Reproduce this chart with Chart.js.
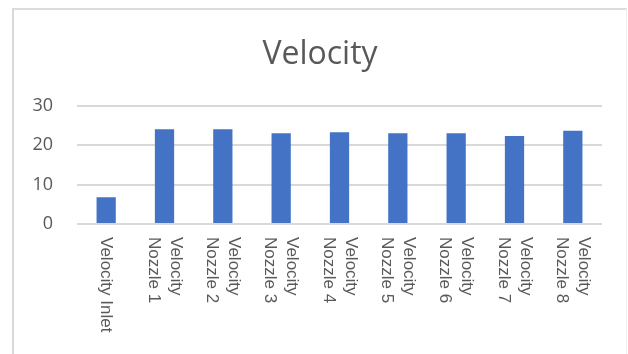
<!DOCTYPE html>
<html>
<head>
<meta charset="utf-8">
<script src="https://cdn.jsdelivr.net/npm/chart.js@4"></script>
<style>
  html, body { margin: 0; padding: 0; background: #ffffff; }
  #frame {
    position: absolute; left: 12px; top: 8px; width: 612px; height: 360px;
    border-left: 2px solid #d9d9d9; border-top: 2px solid #dcdcdc;
    border-right: 1px solid #f0f0f0;
  }
  #wrap { position: absolute; left: 0; top: 0; width: 628px; height: 354px; }
</style>
</head>
<body>
<div id="frame"></div>
<div id="wrap"><canvas id="chart" width="628" height="354"></canvas></div>
<script>
// Measured velocities at the inlet and at each nozzle
const categories = [
  ['Velocity Inlet'],
  ['Velocity', 'Nozzle 1'],
  ['Velocity', 'Nozzle 2'],
  ['Velocity', 'Nozzle 3'],
  ['Velocity', 'Nozzle 4'],
  ['Velocity', 'Nozzle 5'],
  ['Velocity', 'Nozzle 6'],
  ['Velocity', 'Nozzle 7'],
  ['Velocity', 'Nozzle 8']
];
const velocity = [6.8, 24.1, 24.1, 23.1, 23.3, 23.1, 23.1, 22.4, 23.7];
const yTicks = [0, 10, 20, 30];
const chartTitle = 'Velocity';

const TEXT = '#595959';
const xLabelFont = '17px "Liberation Sans", Arial, sans-serif';
const titleFont = '32px "Open Sans", sans-serif';

// Title centred over the framed chart box
const frameTitle = {
  id: 'frameTitle',
  afterDraw(chart) {
    const ctx = chart.ctx;
    ctx.save();
    ctx.font = titleFont;
    ctx.fillStyle = TEXT;
    ctx.textAlign = 'center';
    ctx.textBaseline = 'middle';
    ctx.fillText(chartTitle, 320, 55);
    ctx.restore();
  }
};

// Draws the category labels turned a quarter turn clockwise (reading downward)
const downwardLabels = {
  id: 'downwardLabels',
  afterDraw(chart) {
    const ctx = chart.ctx;
    const xs = chart.scales.x;
    const top = chart.chartArea.bottom + 13;
    const lh = 22;
    ctx.save();
    ctx.font = xLabelFont;
    ctx.fillStyle = TEXT;
    ctx.textAlign = 'left';
    ctx.textBaseline = 'middle';
    categories.forEach((lines, i) => {
      const x = xs.getPixelForValue(i);
      ctx.save();
      ctx.translate(x, top);
      ctx.rotate(Math.PI / 2);
      const n = lines.length;
      lines.forEach((txt, j) => {
        const off = (j - (n - 1) / 2) * lh;
        ctx.fillText(txt, 0, off);
      });
      ctx.restore();
    });
    ctx.restore();
  }
};

new Chart(document.getElementById('chart'), {
  type: 'bar',
  data: {
    labels: categories,
    datasets: [{
      label: 'Velocity',
      data: velocity,
      backgroundColor: '#4472C4',
      borderWidth: 0,
      categoryPercentage: 1,
      barPercentage: 0.33
    }]
  },
  options: {
    responsive: false,
    animation: false,
    layout: { padding: { left: 12, right: 26, top: 106, bottom: 0 } },
    plugins: {
      legend: { display: false },
      tooltip: { enabled: false },
      title: { display: false }
    },
    scales: {
      x: {
        grid: { display: false },
        border: { display: false },
        ticks: { display: false },
        afterFit(scale) { scale.height = 130; }
      },
      y: {
        min: 0,
        max: 30,
        afterBuildTicks(scale) { scale.ticks = yTicks.map(v => ({ value: v })); },
        grid: { color: '#d9d9d9', lineWidth: 2, drawTicks: false },
        border: { display: false },
        ticks: {
          color: TEXT,
          padding: 24,
          font: { family: '"Open Sans", sans-serif', size: 18 }
        },
        afterFit(scale) { scale.width = 65; }
      }
    }
  },
  plugins: [frameTitle, downwardLabels]
});
</script>
</body>
</html>
